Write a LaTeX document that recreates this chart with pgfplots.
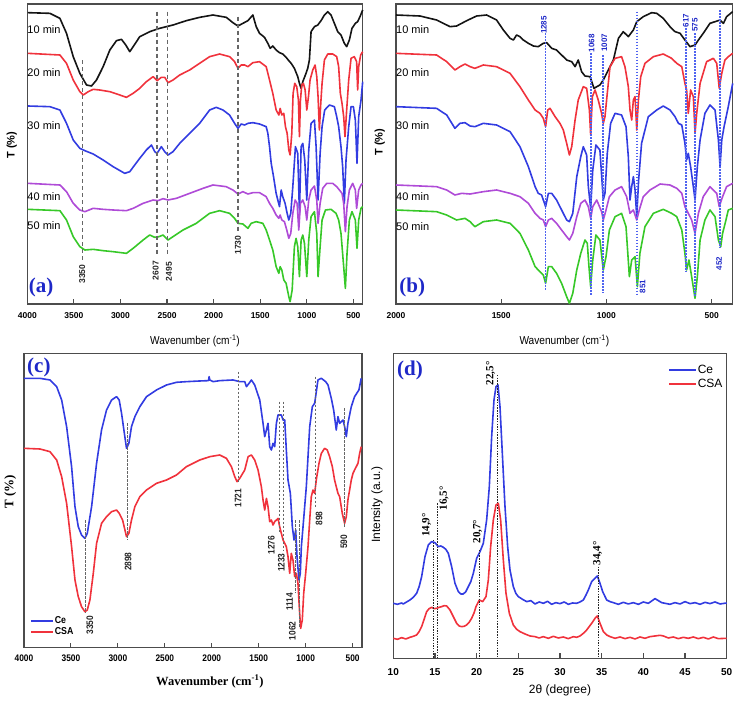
\documentclass[border=0pt]{standalone}
\usepackage{pgfplots}
\pgfplotsset{compat=1.18}
\usepackage{fontspec}
\setmainfont{Liberation Sans}
\newfontfamily\serifb{Liberation Serif}
\newfontfamily\narrow[FakeStretch=0.88]{Liberation Sans}
\newfontfamily\narrowbf[FakeStretch=0.88]{Liberation Sans Bold}
\newcommand{\narrowb}{\bfseries}
\definecolor{cblack}{RGB}{20,20,20}
\definecolor{cred}{RGB}{240,50,60}
\definecolor{cblue}{RGB}{50,60,225}
\definecolor{cpurple}{RGB}{175,75,215}
\definecolor{cgreen}{RGB}{55,200,40}
\definecolor{lblue}{RGB}{30,40,200}
\definecolor{dblue}{RGB}{80,100,240}
\pgfplotsset{
 panel/.style={scale only axis, anchor=south west, clip=false, ytick=\empty,
   y dir=reverse, tick align=inside, xtick pos=bottom, major tick length=5pt,
   axis line style={line width=1.1pt, black!70},
   every tick/.style={line width=1.1pt, black!70},
   /pgf/number format/assume math mode=true, /pgf/number format/1000 sep={},
   every axis plot/.append style={line width=1.6pt, line join=round}},
 dashA/.style={forget plot, line width=1.2pt, black!60, dash pattern=on 4pt off 3pt},
 dotB/.style={forget plot, line width=1.7pt, dblue, dash pattern=on 1.5pt off 1.5pt},
 dashC/.style={forget plot, line width=0.9pt, black!60, dash pattern=on 2.5pt off 1.5pt},
 dotD/.style={forget plot, line width=1.2pt, black!85, dash pattern=on 1.5pt off 1.2pt},
}
\tikzset{
 pklabA/.style={rotate=90, inner sep=0pt, font=\narrowb\fontsize{8.5}{10}\selectfont, text=black!85},
 pklabC/.style={rotate=90, inner sep=0pt, font=\narrowbf\fontsize{9.5}{10}\selectfont, text=black!85},
 pklabB/.style={rotate=90, inner sep=0pt, font=\narrowb\fontsize{8}{10}\selectfont, text=lblue},
 pklabD/.style={rotate=90, inner sep=0pt, font=\serifb\bfseries\fontsize{11}{12}\selectfont},
 minlab/.style={anchor=west, inner sep=0pt, font=\fontsize{11}{12}\selectfont},
 plab/.style={inner sep=0pt, text=lblue, font=\serifb\bfseries\fontsize{21}{22}\selectfont},
}
\begin{document}
\begin{tikzpicture}
\useasboundingbox (0,0) rectangle (736pt,702pt);

%% ---------------- (a) ----------------
\begin{axis}[panel, x dir=reverse, at={(27.3pt,398pt)}, width=335.4pt, height=300pt,
  xmin=400, xmax=4000, ymin=12, ymax=912, xtick={500,1000,...,4000},
  xticklabel style={anchor=center, yshift=-11.7pt, font=\narrowb\fontsize{8.5}{10}\selectfont},
  xlabel={Wavenumber (cm\textsuperscript{-1})},
  xlabel style={at={(axis description cs:0.5,-0.123)}, anchor=center, font=\narrow\fontsize{11.5}{12}\selectfont},
  ylabel={T (\%)},
  ylabel style={at={(axis description cs:-0.046,0.53)}, anchor=center, font=\bfseries\fontsize{11}{12}\selectfont}]
\addplot[cblack] coordinates {(3993,38)(3757,40)(3650,55)(3579,100)(3507,170)(3436,220)(3364,255)(3311,258)(3257,240)(3186,200)(3114,150)(3043,122)(2989,118)(2943,135)(2900,155)(2864,140)(2793,110)(2686,95)(2579,85)(2436,75)(2293,62)(2150,52)(2007,45)(1864,52)(1793,68)(1739,78)(1686,70)(1632,62)(1579,45)(1543,80)(1507,100)(1454,112)(1418,130)(1393,145)(1365,138)(1329,150)(1293,158)(1258,162)(1222,172)(1193,182)(1168,190)(1133,205)(1097,230)(1079,250)(1061,265)(1043,245)(1015,225)(990,205)(972,180)(954,95)(918,80)(882,75)(847,62)(811,45)(775,35)(740,45)(704,70)(668,95)(633,105)(597,130)(572,140)(543,120)(515,85)(479,70)(454,65)(429,50)(400,30)};
\addplot[cred] coordinates {(3993,160)(3650,165)(3579,190)(3507,240)(3436,275)(3400,285)(3346,275)(3293,268)(3222,270)(3114,275)(3007,285)(2936,292)(2864,280)(2793,265)(2722,245)(2650,230)(2607,242)(2561,232)(2525,232)(2489,248)(2436,240)(2364,225)(2257,210)(2150,190)(2043,170)(1936,162)(1829,170)(1775,185)(1739,205)(1704,195)(1668,195)(1632,200)(1579,188)(1507,185)(1436,200)(1400,240)(1365,280)(1329,330)(1300,345)(1286,325)(1268,345)(1247,340)(1229,380)(1211,400)(1193,450)(1179,465)(1161,400)(1147,280)(1129,250)(1108,260)(1090,300)(1079,410)(1068,300)(1054,255)(1036,250)(1018,270)(1000,330)(982,290)(965,240)(936,210)(911,195)(893,230)(879,290)(865,390)(850,310)(836,250)(811,180)(775,162)(722,162)(679,170)(658,200)(640,280)(622,310)(604,350)(590,410)(572,330)(550,240)(525,175)(490,170)(465,185)(454,270)(443,200)(422,165)(400,155)};
\addplot[cblue] coordinates {(3993,318)(3757,320)(3650,330)(3579,370)(3507,420)(3436,445)(3382,452)(3293,462)(3186,480)(3079,500)(2954,520)(2900,515)(2847,495)(2793,475)(2722,450)(2668,435)(2632,455)(2607,460)(2561,440)(2525,455)(2489,465)(2436,455)(2364,430)(2257,400)(2150,370)(2043,330)(1972,322)(1900,330)(1829,345)(1775,370)(1739,385)(1704,372)(1668,375)(1632,370)(1579,368)(1507,372)(1436,380)(1418,400)(1400,440)(1382,490)(1357,530)(1329,580)(1311,600)(1293,620)(1275,570)(1258,590)(1233,610)(1211,640)(1193,660)(1172,640)(1150,560)(1122,440)(1097,460)(1079,640)(1061,440)(1043,430)(1022,480)(1000,600)(979,450)(954,370)(918,360)(900,440)(879,600)(857,460)(836,380)(808,330)(757,315)(704,320)(679,350)(658,380)(633,440)(615,500)(597,610)(579,480)(550,380)(525,320)(500,320)(479,360)(461,490)(443,350)(418,300)(400,245)};
\addplot[cpurple] coordinates {(3993,550)(3650,555)(3579,575)(3507,610)(3436,630)(3382,635)(3293,625)(3186,628)(3079,630)(2936,632)(2864,625)(2757,610)(2650,600)(2597,602)(2543,596)(2489,600)(2400,595)(2257,580)(2114,565)(2007,555)(1864,560)(1793,570)(1739,582)(1686,575)(1632,582)(1579,578)(1507,578)(1436,590)(1400,610)(1365,625)(1329,645)(1300,655)(1286,645)(1268,660)(1240,665)(1215,690)(1193,715)(1172,700)(1150,640)(1125,600)(1104,610)(1086,690)(1068,610)(1043,600)(1018,620)(1000,660)(979,600)(954,570)(918,558)(893,600)(879,670)(857,610)(829,565)(786,550)(722,550)(679,560)(650,570)(622,580)(604,610)(586,695)(568,620)(543,570)(507,550)(479,570)(465,625)(443,570)(418,555)(400,550)};
\addplot[cgreen] coordinates {(3993,628)(3650,632)(3579,660)(3507,710)(3436,740)(3382,750)(3293,748)(3186,752)(3079,755)(2936,760)(2864,745)(2757,720)(2686,705)(2632,712)(2586,710)(2543,705)(2489,720)(2436,710)(2329,690)(2186,670)(2043,640)(1936,632)(1829,640)(1775,655)(1739,670)(1686,672)(1632,685)(1597,670)(1543,665)(1472,670)(1436,690)(1400,720)(1365,750)(1329,800)(1300,820)(1286,800)(1268,810)(1247,840)(1222,850)(1193,890)(1179,905)(1157,870)(1133,740)(1115,715)(1097,740)(1079,830)(1061,720)(1043,705)(1025,730)(1000,830)(979,720)(954,650)(918,635)(893,700)(879,830)(857,740)(836,660)(800,630)(740,628)(686,640)(658,660)(633,700)(604,800)(586,865)(568,760)(543,660)(515,635)(479,660)(461,745)(443,660)(418,625)(400,620)};
\addplot[dashA] coordinates {(3411,180)(3411,780)};
\addplot[dashA] coordinates {(2607,35)(2607,765)};
\addplot[dashA] coordinates {(2497,35)(2497,765)};
\addplot[dashA] coordinates {(1739,50)(1739,695)};
\node[pklabA] at (axis cs:3411,822) {3350};
\node[pklabA] at (axis cs:2622,812) {2607};
\node[pklabA] at (axis cs:2479,815) {2495};
\node[pklabA] at (axis cs:1739,735) {1730};
\node[minlab] at (axis cs:4000,90) {10 min};
\node[minlab] at (axis cs:4000,218) {20 min};
\node[minlab] at (axis cs:4000,378) {30 min};
\node[minlab] at (axis cs:4000,590) {40 min};
\node[minlab] at (axis cs:4000,678) {50 min};
\node[plab] at (axis description cs:0.041,0.056) {(a)};
\end{axis}

%% ---------------- (b) ----------------
\begin{axis}[panel, x dir=reverse, at={(396pt,398pt)}, width=336.7pt, height=300pt,
  xmin=400, xmax=2000, ymin=12, ymax=912, xtick={500,1000,1500,2000},
  xticklabel style={anchor=center, yshift=-11.7pt, font=\narrowb\fontsize{8.5}{10}\selectfont},
  xlabel={Wavenumber (cm\textsuperscript{-1})},
  xlabel style={at={(axis description cs:0.5,-0.122)}, anchor=center, font=\narrow\fontsize{11.5}{12}\selectfont},
  ylabel={T (\%)},
  ylabel style={at={(axis description cs:-0.048,0.54)}, anchor=center, font=\bfseries\fontsize{11}{12}\selectfont}]
\addplot[cblack] coordinates {(2000,45)(1886,48)(1807,60)(1743,80)(1712,78)(1664,62)(1617,48)(1569,45)(1522,60)(1490,90)(1458,115)(1442,120)(1427,105)(1411,110)(1395,120)(1371,130)(1347,138)(1324,140)(1300,130)(1284,128)(1260,145)(1237,150)(1213,165)(1189,180)(1165,185)(1149,200)(1134,180)(1118,215)(1102,228)(1078,230)(1059,265)(1046,260)(1031,255)(1015,240)(991,210)(967,180)(943,115)(920,95)(896,110)(872,90)(856,65)(825,50)(785,38)(761,40)(730,55)(698,80)(674,95)(650,100)(627,120)(603,140)(579,135)(563,120)(540,100)(508,70)(484,65)(460,60)(444,70)(429,50)(400,35)};
\addplot[cred] coordinates {(2000,160)(1807,165)(1759,185)(1720,210)(1696,200)(1672,192)(1648,200)(1625,205)(1585,195)(1522,200)(1458,220)(1411,260)(1371,300)(1339,330)(1316,340)(1300,355)(1289,380)(1279,330)(1268,325)(1244,350)(1221,370)(1205,390)(1189,430)(1176,465)(1165,440)(1149,360)(1134,300)(1110,260)(1094,265)(1081,330)(1075,405)(1067,290)(1054,270)(1039,300)(1023,340)(1015,370)(1007,350)(996,280)(983,200)(959,175)(928,170)(912,200)(896,260)(888,330)(880,360)(872,300)(864,290)(856,390)(848,300)(837,230)(817,190)(777,170)(730,162)(690,175)(666,190)(642,200)(627,250)(619,270)(611,340)(600,270)(587,290)(579,400)(571,340)(555,250)(524,185)(492,175)(476,190)(464,265)(452,220)(437,180)(421,170)(400,160)};
\addplot[cblue] coordinates {(2000,320)(1807,325)(1759,345)(1720,385)(1696,370)(1672,368)(1648,378)(1625,380)(1585,370)(1522,375)(1458,395)(1411,440)(1371,500)(1339,560)(1324,580)(1308,585)(1289,620)(1276,580)(1260,580)(1237,600)(1213,630)(1189,660)(1176,665)(1160,640)(1141,530)(1122,470)(1110,440)(1094,465)(1086,560)(1075,625)(1065,510)(1050,435)(1031,450)(1015,600)(1007,580)(996,460)(980,370)(959,340)(928,345)(907,380)(896,470)(888,600)(880,560)(872,530)(864,570)(856,650)(847,540)(833,430)(801,350)(761,330)(730,318)(698,330)(674,350)(658,370)(642,375)(627,430)(619,480)(611,460)(600,500)(587,560)(579,600)(568,500)(555,420)(532,340)(508,315)(484,330)(468,420)(460,500)(452,420)(441,380)(421,320)(400,250)};
\addplot[cpurple] coordinates {(2000,555)(1807,560)(1759,570)(1720,585)(1688,580)(1648,582)(1585,575)(1522,570)(1458,580)(1411,590)(1371,610)(1339,640)(1316,655)(1300,660)(1289,680)(1276,660)(1260,655)(1237,670)(1213,690)(1189,710)(1176,720)(1160,700)(1141,650)(1122,610)(1102,600)(1086,620)(1075,655)(1065,620)(1046,600)(1023,635)(1015,660)(1002,630)(986,590)(959,570)(928,560)(904,590)(888,640)(872,630)(856,660)(844,630)(825,590)(793,570)(745,552)(698,555)(666,565)(642,580)(627,620)(611,640)(595,660)(579,700)(563,640)(540,590)(508,560)(476,580)(464,620)(448,590)(429,560)(400,550)};
\addplot[cgreen] coordinates {(2000,630)(1807,635)(1759,645)(1712,660)(1672,655)(1648,665)(1625,680)(1585,665)(1522,660)(1458,670)(1411,700)(1371,750)(1339,800)(1316,815)(1300,825)(1289,850)(1276,800)(1260,800)(1237,820)(1213,850)(1189,890)(1176,910)(1160,880)(1141,810)(1122,760)(1102,720)(1091,730)(1083,800)(1075,860)(1065,780)(1050,705)(1031,720)(1015,810)(1002,770)(986,690)(959,650)(928,640)(907,680)(891,830)(880,780)(864,770)(853,860)(841,760)(817,680)(777,640)(730,628)(690,640)(666,650)(642,690)(627,760)(619,810)(608,780)(595,830)(579,895)(568,830)(555,720)(532,660)(508,630)(484,650)(468,720)(457,740)(448,700)(432,660)(421,630)(400,625)};
\addplot[dotB] coordinates {(1289,100)(1289,870)};
\addplot[dotB] coordinates {(1075,160)(1075,885)};
\addplot[dotB] coordinates {(1015,165)(1015,880)};
\addplot[dotB] coordinates {(856,35)(856,890)};
\addplot[dotB] coordinates {(622,85)(622,815)};
\addplot[dotB] coordinates {(579,100)(579,890)};
\addplot[dotB] coordinates {(460,30)(460,745)};
\node[pklabB] at (axis cs:1297,75) {1285};
\node[pklabB] at (axis cs:1070,130) {1068};
\node[pklabB] at (axis cs:1010,128) {1007};
\node[pklabB] at (axis cs:828,860) {851};
\node[pklabB] at (axis cs:622,62) {617};
\node[pklabB] at (axis cs:579,75) {575};
\node[pklabB] at (axis cs:464,790) {452};
\node[minlab] at (axis cs:2000,88) {10 min};
\node[minlab] at (axis cs:2000,218) {20 min};
\node[minlab] at (axis cs:2000,378) {30 min};
\node[minlab] at (axis cs:2000,590) {40 min};
\node[minlab] at (axis cs:2000,680) {50 min};
\node[plab] at (axis description cs:0.048,0.056) {(b)};
\end{axis}

%% ---------------- (c) ----------------
\begin{axis}[panel, x dir=reverse, at={(24pt,54.3pt)}, width=338pt, height=294.4pt,
  xmin=400, xmax=4000, ymin=100, ymax=983, xtick={500,1000,...,4000},
  xticklabel style={anchor=center, yshift=-10.6pt, font=\narrowbf\fontsize{9.5}{10}\selectfont},
  xlabel={Wavenumber (cm\textsuperscript{-1})},
  xlabel style={at={(axis description cs:0.55,-0.115)}, anchor=center, font=\serifb\bfseries\fontsize{12.5}{13}\selectfont},
  ylabel={T (\%)},
  ylabel style={at={(axis description cs:-0.041,0.529)}, anchor=center, font=\serifb\bfseries\fontsize{13}{14}\selectfont},
  legend style={at={(axis description cs:0.018,0.035)}, anchor=south west, draw=none, fill=none, inner sep=0pt, row sep=0.5pt,
    font=\narrowbf\fontsize{10}{11}\selectfont, nodes={inner sep=1pt}},
  legend cell align=left,
  legend image code/.code={\draw[#1] (0pt,0pt) -- (22pt,0pt);}]
\addplot[cblue] coordinates {(4000,175)(3830,175)(3723,180)(3652,200)(3599,240)(3546,320)(3493,440)(3457,560)(3422,620)(3387,645)(3351,655)(3326,640)(3280,560)(3227,430)(3174,330)(3121,270)(3067,240)(3014,230)(2986,240)(2961,280)(2936,330)(2908,385)(2883,370)(2855,320)(2819,290)(2766,260)(2695,230)(2589,210)(2482,195)(2376,187)(2270,185)(2128,183)(2035,182)(2028,170)(2021,180)(1986,185)(1915,182)(1773,180)(1702,185)(1649,185)(1631,200)(1603,190)(1578,180)(1543,195)(1525,210)(1489,240)(1454,310)(1436,350)(1418,330)(1401,310)(1383,380)(1365,390)(1348,370)(1330,380)(1312,310)(1294,285)(1259,285)(1241,300)(1223,300)(1206,390)(1188,480)(1163,520)(1142,620)(1124,660)(1106,630)(1092,710)(1071,780)(1057,760)(1046,680)(1028,620)(993,500)(957,320)(929,260)(904,250)(869,180)(833,175)(787,185)(762,195)(727,235)(702,270)(674,330)(656,290)(638,310)(603,300)(585,320)(567,350)(550,310)(514,260)(479,230)(433,210)(408,175)};
\addlegendentry{Ce}
\addplot[cred] coordinates {(4000,385)(3830,387)(3723,395)(3652,420)(3599,470)(3546,550)(3493,680)(3457,780)(3422,830)(3387,860)(3351,875)(3326,870)(3298,840)(3262,760)(3227,670)(3174,610)(3121,590)(3067,575)(3014,570)(2986,580)(2950,600)(2908,650)(2883,640)(2855,600)(2819,560)(2766,530)(2695,510)(2589,490)(2482,480)(2376,465)(2270,440)(2128,420)(2021,410)(1915,405)(1844,415)(1791,440)(1755,470)(1731,485)(1702,475)(1649,450)(1613,410)(1578,405)(1543,420)(1507,450)(1472,500)(1454,540)(1436,570)(1418,535)(1401,560)(1383,605)(1365,600)(1348,615)(1330,605)(1312,600)(1294,595)(1277,620)(1259,640)(1241,660)(1223,670)(1206,680)(1188,710)(1170,760)(1153,700)(1135,720)(1117,770)(1099,760)(1082,790)(1064,880)(1053,925)(1036,900)(1021,820)(1000,760)(975,680)(957,600)(940,530)(922,510)(904,520)(887,480)(858,430)(833,400)(798,385)(770,390)(745,410)(716,440)(692,480)(674,500)(656,520)(638,530)(610,580)(585,610)(567,590)(550,540)(514,480)(496,460)(479,450)(461,440)(443,430)(425,400)(408,380)};
\addlegendentry{CSA}
\addplot[dashC] coordinates {(3350,600)(3350,880)};
\addplot[dashC] coordinates {(2898,310)(2898,660)};
\addplot[dashC] coordinates {(1721,155)(1721,490)};
\addplot[dashC] coordinates {(1276,245)(1276,640)};
\addplot[dashC] coordinates {(1233,245)(1233,690)};
\addplot[dashC] coordinates {(1114,600)(1114,820)};
\addplot[dashC] coordinates {(1062,600)(1062,920)};
\addplot[dashC] coordinates {(898,170)(898,560)};
\addplot[dashC] coordinates {(590,265)(590,620)};
\node[pklabC] at (axis cs:3298,915) {3350};
\node[pklabC] at (axis cs:2890,725) {2898};
\node[pklabC] at (axis cs:1720,535) {1721};
\node[pklabC] at (axis cs:1365,675) {1276};
\node[pklabC] at (axis cs:1259,728) {1233};
\node[pklabC] at (axis cs:1170,845) {1114};
\node[pklabC] at (axis cs:1142,932) {1062};
\node[pklabC] at (axis cs:858,595) {898};
\node[pklabC] at (axis cs:592,665) {590};
\node[plab] at (axis description cs:0.044,0.953) {(c)};
\end{axis}

%% ---------------- (d) ----------------
\begin{axis}[panel, at={(393.3pt,43.7pt)}, width=333.4pt, height=305pt,
  xmin=10, xmax=50, ymin=100, ymax=1015, xtick={10,15,...,50},
  xticklabel style={anchor=center, yshift=-13.4pt, font=\narrowb\fontsize{10}{12}\selectfont},
  xlabel={2θ (degree)},
  xlabel style={at={(axis description cs:0.5,-0.104)}, anchor=center, font=\fontsize{12}{13}\selectfont},
  ylabel={Intensity (a.u.)},
  ylabel style={at={(axis description cs:-0.049,0.503)}, anchor=center, font=\fontsize{12}{13}\selectfont},
  legend style={at={(axis description cs:0.824,0.965)}, anchor=north west, draw=none, fill=none, inner sep=0pt, row sep=2pt,
    font=\fontsize{12}{13}\selectfont, nodes={inner sep=1pt}},
  legend cell align=left,
  legend image code/.code={\draw[#1] (0pt,0pt) -- (27pt,0pt);}]
\addplot[cblue] coordinates {(10.0,850)(10.5,853)(11.0,849)(11.2,852)(11.6,846)(12.0,840)(12.4,832)(12.8,820)(13.1,800)(13.4,770)(13.8,710)(14.2,675)(14.6,665)(15.0,668)(15.4,680)(15.7,678)(16.0,682)(16.3,688)(16.6,700)(17.0,740)(17.4,790)(17.8,815)(18.1,822)(18.4,822)(18.7,815)(19.0,800)(19.3,785)(19.6,760)(20.0,715)(20.4,695)(20.8,670)(21.2,600)(21.52,500)(21.8,350)(22.08,240)(22.32,200)(22.56,195)(22.8,260)(23.12,420)(23.4,560)(23.72,680)(24.0,750)(24.4,800)(24.7,820)(25.0,830)(25.5,838)(26.0,845)(26.5,842)(27.0,852)(27.5,846)(28.0,850)(28.5,844)(29.0,853)(29.5,848)(30.0,851)(30.5,846)(31.0,853)(31.5,849)(32.0,850)(32.4,846)(32.8,840)(33.1,826)(33.4,810)(33.8,785)(34.2,775)(34.48,768)(34.8,790)(35.12,815)(35.6,840)(36.0,845)(36.4,848)(37.0,853)(37.6,847)(38.2,852)(38.8,848)(39.4,853)(40.0,846)(40.6,850)(41.0,843)(41.4,836)(41.8,842)(42.2,848)(42.6,850)(43.2,853)(43.8,848)(44.4,852)(45.0,845)(45.6,851)(46.2,848)(46.8,853)(47.4,847)(48.0,851)(48.6,846)(49.2,852)(50.0,849)};
\addlegendentry{Ce}
\addplot[cred] coordinates {(10.0,955)(10.5,958)(11.0,953)(11.5,957)(12.0,952)(12.4,949)(12.8,945)(13.1,935)(13.4,920)(13.7,898)(14.0,875)(14.3,866)(14.6,862)(14.9,866)(15.2,865)(15.5,862)(15.8,860)(16.1,857)(16.4,858)(16.8,870)(17.2,890)(17.6,910)(17.9,918)(18.2,920)(18.5,919)(18.8,915)(19.1,907)(19.4,895)(19.7,878)(19.92,860)(20.32,840)(20.72,845)(21.12,830)(21.4,780)(21.68,680)(22.0,600)(22.32,555)(22.6,550)(22.88,600)(23.2,720)(23.52,820)(23.92,880)(24.4,915)(24.8,928)(25.2,935)(25.8,942)(26.4,948)(27.0,950)(27.5,954)(28.0,950)(28.6,955)(29.2,949)(29.8,954)(30.4,951)(31.0,956)(31.6,950)(32.0,952)(32.4,948)(32.8,940)(33.2,930)(33.5,920)(33.8,910)(34.2,895)(34.48,888)(34.8,910)(35.2,935)(35.6,945)(36.0,950)(36.6,955)(37.2,951)(37.8,956)(38.4,952)(39.0,957)(39.6,951)(40.2,955)(40.8,950)(41.4,948)(42.0,946)(42.4,948)(43.0,954)(43.6,951)(44.2,956)(44.8,952)(45.4,955)(46.0,951)(46.6,956)(47.2,952)(47.8,957)(48.4,951)(49.0,956)(50.0,955)};
\addlegendentry{CSA}
\addplot[dotD] coordinates {(14.8,660)(14.8,1015)};
\addplot[dotD] coordinates {(15.32,550)(15.32,1015)};
\addplot[dotD] coordinates {(20.3,690)(20.3,1015)};
\addplot[dotD] coordinates {(22.52,165)(22.52,1015)};
\addplot[dotD] coordinates {(34.6,740)(34.6,1015)};
\node[pklabD] at (axis cs:14.0,615) {14,9°};
\node[pklabD] at (axis cs:16.08,535) {16,5°};
\node[pklabD] at (axis cs:20.1,635) {20,7°};
\node[pklabD] at (axis cs:21.68,160) {22,5°};
\node[pklabD] at (axis cs:34.52,700) {34,4°};
\node[plab] at (axis description cs:0.05,0.945) {(d)};
\end{axis}
\end{tikzpicture}
\end{document}
